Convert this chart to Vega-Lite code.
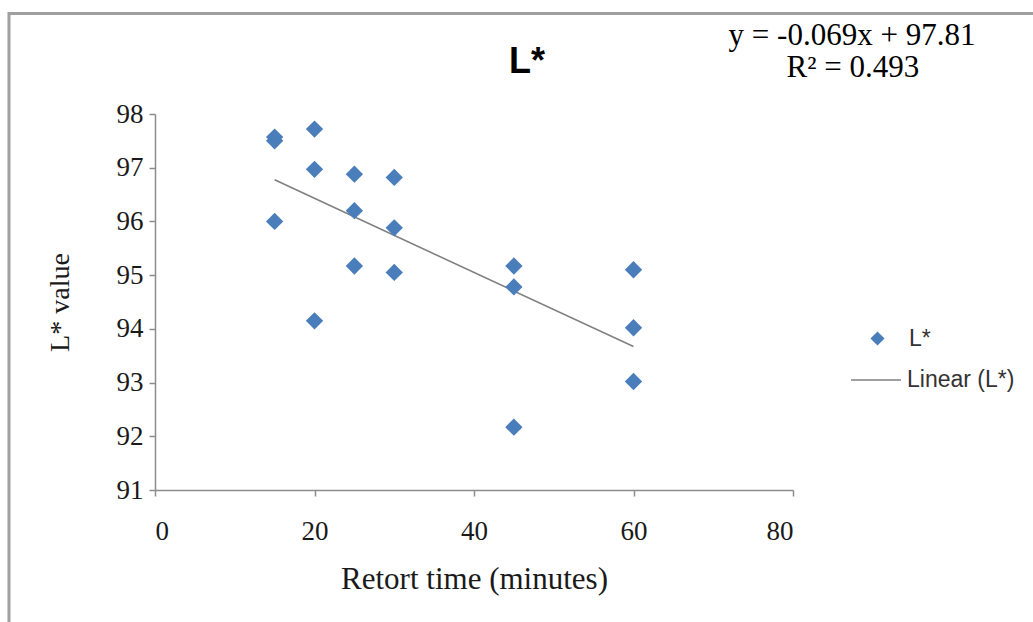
{
  "$schema": "https://vega.github.io/schema/vega-lite/v6.json",
  "width": 638,
  "height": 376,
  "autosize": "none",
  "padding": {"left": 155, "top": 114, "right": 240, "bottom": 132},
  "background": "white",
  "datasets": {
    "pts": [
      {"time": 15, "L": 97.57, "series": "L*"},
      {"time": 15, "L": 97.5, "series": "L*"},
      {"time": 15, "L": 96.0, "series": "L*"},
      {"time": 20, "L": 97.72, "series": "L*"},
      {"time": 20, "L": 96.97, "series": "L*"},
      {"time": 20, "L": 94.15, "series": "L*"},
      {"time": 25, "L": 96.88, "series": "L*"},
      {"time": 25, "L": 96.2, "series": "L*"},
      {"time": 25, "L": 95.17, "series": "L*"},
      {"time": 30, "L": 96.82, "series": "L*"},
      {"time": 30, "L": 95.88, "series": "L*"},
      {"time": 30, "L": 95.05, "series": "L*"},
      {"time": 45, "L": 95.17, "series": "L*"},
      {"time": 45, "L": 94.78, "series": "L*"},
      {"time": 45, "L": 92.17, "series": "L*"},
      {"time": 60, "L": 95.1, "series": "L*"},
      {"time": 60, "L": 94.02, "series": "L*"},
      {"time": 60, "L": 93.02, "series": "L*"}
    ],
    "trend": [
      {"time": 15, "L": 96.775, "series": "Linear (L*)"},
      {"time": 60, "L": 93.67, "series": "Linear (L*)"}
    ],
    "ttl": [{"label": "L*"}],
    "eq": [{"label": "y = -0.069x + 97.81"}],
    "r2": [{"label": "R² = 0.493"}],
    "frame": [{"name": "border"}]
  },
  "layer": [
    {
      "data": {"name": "frame"},
      "mark": {"type": "rect", "fill": null, "fillOpacity": 0, "stroke": "#a0a0a0", "strokeWidth": 3, "clip": false},
      "encoding": {
        "x": {"datum": -18.31, "type": "quantitative"},
        "x2": {"datum": 115},
        "y": {"datum": 99.871, "type": "quantitative"},
        "y2": {"datum": 88}
      }
    },
    {
      "data": {"name": "trend"},
      "mark": {"type": "line", "strokeWidth": 1.6},
      "encoding": {
        "x": {"field": "time", "type": "quantitative", "scale": {"domain": [0, 80], "nice": false},
          "axis": {"title": "Retort time (minutes)", "titleFontSize": 31, "values": [0, 20, 40, 60, 80], "labelPadding": 22, "tickSize": 6, "titlePadding": 20}},
        "y": {"field": "L", "type": "quantitative", "scale": {"domain": [91, 98], "nice": false, "zero": false},
          "axis": {"title": "L* value", "format": "d", "values": [91, 92, 93, 94, 95, 96, 97, 98], "labelPadding": 6, "tickSize": 6, "titlePadding": 42}},
        "color": {"field": "series", "type": "nominal", "scale": {"domain": ["Linear (L*)"], "range": ["#808080"]},
          "legend": {"title": null, "orient": "none", "legendX": 695, "legendY": 240, "symbolType": "stroke", "symbolSize": 2500, "symbolStrokeWidth": 1.6, "labelOffset": 5}}
      }
    },
    {
      "data": {"name": "pts"},
      "mark": {"type": "point", "filled": true, "size": 300, "color": "#4a7ebb", "opacity": 1},
      "encoding": {
        "x": {"field": "time", "type": "quantitative"},
        "y": {"field": "L", "type": "quantitative"},
        "shape": {"field": "series", "type": "nominal", "scale": {"domain": ["L*"], "range": ["diamond"]},
          "legend": {"title": null, "orient": "none", "legendX": 711, "legendY": 213, "symbolSize": 200, "symbolFillColor": "#4a7ebb", "symbolStrokeWidth": 0, "labelOffset": 20}}
      }
    },
    {
      "data": {"name": "ttl"},
      "mark": {"type": "text", "font": "Liberation Sans", "fontSize": 36, "fontWeight": "bold", "color": "#000000", "align": "center", "baseline": "middle"},
      "encoding": {
        "x": {"datum": 46.65, "type": "quantitative"},
        "y": {"datum": 98.97, "type": "quantitative"},
        "text": {"field": "label"}
      }
    },
    {
      "data": {"name": "eq"},
      "mark": {"type": "text", "font": "Liberation Serif", "fontSize": 31, "color": "#000000", "align": "center", "baseline": "middle"},
      "encoding": {
        "x": {"datum": 87.4, "type": "quantitative"},
        "y": {"datum": 99.45, "type": "quantitative"},
        "text": {"field": "label"}
      }
    },
    {
      "data": {"name": "r2"},
      "mark": {"type": "text", "font": "Liberation Serif", "fontSize": 31, "color": "#000000", "align": "center", "baseline": "middle"},
      "encoding": {
        "x": {"datum": 87.5, "type": "quantitative"},
        "y": {"datum": 98.86, "type": "quantitative"},
        "text": {"field": "label"}
      }
    }
  ],
  "config": {
    "view": {"stroke": null},
    "axis": {
      "grid": false,
      "domainColor": "#8c8c8c",
      "domainWidth": 1.5,
      "tickColor": "#8c8c8c",
      "tickWidth": 1.5,
      "labelFont": "Liberation Serif",
      "labelFontSize": 27,
      "labelColor": "#1a1a1a",
      "titleFont": "Liberation Serif",
      "titleFontSize": 28,
      "titleFontWeight": "normal",
      "titleColor": "#1a1a1a"
    },
    "legend": {
      "labelFont": "Liberation Sans",
      "labelFontSize": 23,
      "labelColor": "#333333",
      "padding": 0
    }
  }
}
